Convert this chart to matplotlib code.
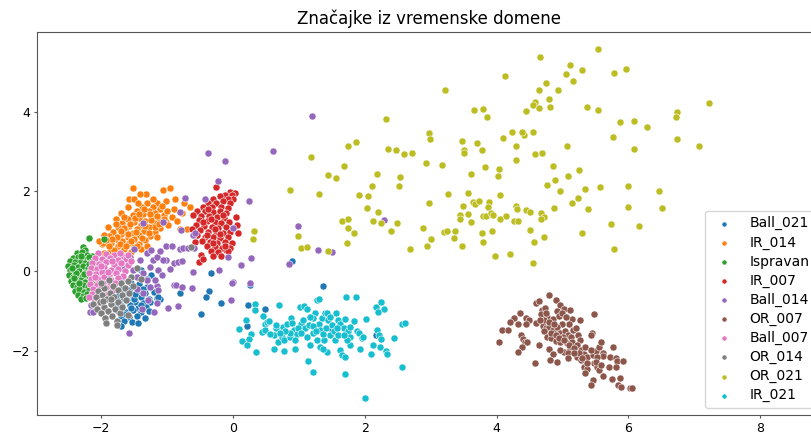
import matplotlib
matplotlib.use("Agg")
import matplotlib.pyplot as plt

labels = ["Ball_021", "IR_014", "Ispravan", "IR_007", "Ball_014",
          "OR_007", "Ball_007", "OR_014", "OR_021", "IR_021"]
colors = ["#1f77b4", "#ff7f0e", "#2ca02c", "#d62728", "#9467bd",
          "#8c564b", "#e377c2", "#7f7f7f", "#bcbd22", "#17becf"]

ball_021 = [
    (-1.39, 0.03), (-1.24, -0.10), (-1.15, -0.38), (-1.30, -0.20), (-1.45, -0.15),
    (-1.55, -0.30), (-1.42, -0.32), (-1.30, -0.40), (-1.68, -0.40), (-1.20, -0.52),
    (-1.82, -0.50), (-1.70, -0.52), (-1.58, -0.48), (-1.46, -0.50), (-1.34, -0.55),
    (-1.76, -0.62), (-1.64, -0.60), (-1.52, -0.64), (-1.40, -0.66), (-1.28, -0.70), (-1.16, -0.69),
    (-1.86, -0.72), (-1.73, -0.75), (-1.61, -0.72), (-1.49, -0.78), (-1.37, -0.80), (-1.26, -0.77),
    (-1.80, -0.86), (-1.68, -0.88), (-1.56, -0.85), (-1.44, -0.92), (-1.32, -0.90),
    (-1.75, -1.00), (-1.63, -1.02), (-1.51, -0.98), (-1.39, -1.04), (-1.27, -1.00),
    (-1.70, -1.13), (-1.58, -1.15), (-1.46, -1.12), (-1.34, -1.18),
    (-1.65, -1.25), (-1.53, -1.28), (-1.44, -1.31), (-1.70, -1.38),
    (-1.60, -0.55), (-1.50, -0.70), (-1.67, -0.66), (-1.55, -0.93), (-1.62, -1.08),
    (-1.40, -0.85), (-1.74, -0.92), (-1.48, -0.58), (-1.36, -0.45),
    (-0.81, -0.55), (-1.11, -0.70), (-1.14, -0.65), (-0.34, -0.05), (-0.36, -0.49),
    (-0.41, -0.65), (-0.18, -0.80), (-0.48, -1.07), (0.26, -0.34), (0.23, -0.85),
    (0.34, -0.99), (0.48, -0.95), (0.21, -1.38), (0.22, -1.86), (1.48, -1.42),
    (1.37, -0.38), (2.17, -1.60), (0.89, 0.25),
]

ir_014 = [
    (-1.52, 2.09), (-1.06, 2.03), (-0.95, 2.08), (-1.32, 1.93), (-1.41, 1.93), (-1.58, 1.80),
    (-1.50, 1.80), (-0.88, 1.81), (-1.16, 1.72), (-1.02, 1.77), (-0.65, 1.60), (-0.69, 1.06),
    (-1.98, 0.68), (-1.87, 0.49), (-1.97, 0.70), (-1.96, 0.46),
    (-1.30, 1.70), (-1.22, 1.62), (-1.38, 1.60), (-1.10, 1.55), (-1.28, 1.50), (-1.45, 1.52),
    (-1.18, 1.45), (-1.36, 1.42), (-1.52, 1.40), (-1.05, 1.40),
    (-1.25, 1.35), (-1.42, 1.32), (-1.60, 1.30), (-1.12, 1.30), (-1.33, 1.25), (-1.50, 1.22),
    (-1.68, 1.20), (-1.20, 1.20), (-1.02, 1.22),
    (-1.40, 1.15), (-1.58, 1.12), (-1.75, 1.10), (-1.28, 1.10), (-1.10, 1.08), (-1.46, 1.05),
    (-1.64, 1.02), (-1.82, 0.98), (-1.35, 1.00), (-1.18, 0.98),
    (-1.52, 0.95), (-1.70, 0.92), (-1.88, 0.88), (-1.42, 0.90), (-1.26, 0.88), (-1.60, 0.85),
    (-1.78, 0.80), (-1.50, 0.80), (-1.34, 0.78), (-1.68, 0.75),
    (-1.85, 0.70), (-1.58, 0.70), (-1.42, 0.68), (-1.75, 0.62), (-1.50, 0.60), (-1.65, 0.55),
    (-1.80, 0.52), (-1.55, 0.48), (-1.70, 0.42), (-1.40, 0.55),
    (-1.00, 1.50), (-0.92, 1.35), (-0.98, 1.15), (-0.85, 1.25), (-1.60, 1.60), (-1.70, 1.45),
    (-1.78, 1.30), (-1.90, 1.10), (-1.95, 0.90), (-2.03, 0.75),
    (-0.78, 1.45), (-0.80, 1.05), (-1.15, 0.85), (-1.30, 0.62), (-1.22, 1.80), (-0.75, 1.70),
    (-1.35, 1.55), (-1.15, 1.38), (-1.48, 1.32), (-1.24, 1.27), (-1.56, 1.17), (-1.33, 1.13),
    (-1.66, 1.08), (-1.47, 0.99), (-1.28, 0.95), (-1.60, 0.93), (-1.76, 0.86), (-1.38, 0.84),
    (-1.55, 0.76), (-1.72, 0.68), (-1.62, 0.62), (-1.46, 0.63), (-1.88, 0.62), (-1.83, 0.80),
    (-1.07, 1.63), (-1.44, 1.70), (-1.70, 1.00), (-1.19, 1.10), (-1.05, 1.30), (-0.90, 1.55),
    (-1.42, 1.44), (-1.26, 1.42), (-1.12, 1.18), (-1.77, 1.19), (-1.65, 1.36), (-1.92, 0.78),
]

ispravan = [
    (-2.18, 0.84), (-1.96, 0.80), (-2.28, 0.60), (-2.25, 0.53),
    (-2.36, 0.44), (-2.29, 0.47), (-2.21, 0.41), (-2.14, 0.38),
    (-2.43, 0.33), (-2.35, 0.36), (-2.27, 0.31), (-2.19, 0.34), (-2.11, 0.27),
    (-2.47, 0.24), (-2.39, 0.22), (-2.31, 0.26), (-2.24, 0.19), (-2.16, 0.23), (-2.08, 0.17),
    (-2.50, 0.12), (-2.42, 0.15), (-2.35, 0.09), (-2.27, 0.13), (-2.20, 0.07), (-2.12, 0.11), (-2.05, 0.04),
    (-2.48, 0.02), (-2.40, -0.03), (-2.33, 0.01), (-2.25, -0.04), (-2.17, 0.00), (-2.09, -0.06),
    (-2.49, -0.10), (-2.43, -0.14), (-2.36, -0.09), (-2.29, -0.16), (-2.22, -0.11), (-2.14, -0.17), (-2.07, -0.13),
    (-2.46, -0.24), (-2.39, -0.27), (-2.31, -0.22), (-2.24, -0.28), (-2.16, -0.25), (-2.10, -0.31),
    (-2.43, -0.36), (-2.36, -0.40), (-2.28, -0.35), (-2.20, -0.41), (-2.13, -0.38),
    (-2.40, -0.49), (-2.33, -0.46), (-2.26, -0.52), (-2.18, -0.47),
    (-2.35, -0.60), (-2.28, -0.63), (-2.21, -0.58),
    (-2.30, -0.71), (-2.23, -0.68),
    (-2.38, -0.05), (-2.30, 0.38), (-2.26, -0.07), (-2.33, -0.31), (-2.19, 0.17), (-2.44, 0.07), (-2.41, -0.18),
]

ir_007 = [
    (-0.25, 2.12), (-0.05, 1.99), (0.03, 1.95), (-0.12, 1.92), (-0.02, 1.90), (-0.20, 1.88), (0.00, 1.82),
    (-0.08, 1.80), (-0.30, 1.82),
    (-0.15, 1.75), (-0.25, 1.72), (-0.38, 1.70), (-0.05, 1.70), (-0.45, 1.62), (-0.32, 1.60), (-0.18, 1.62), (-0.08, 1.58),
    (-0.55, 1.52), (-0.42, 1.50), (-0.30, 1.48), (-0.20, 1.52), (-0.10, 1.45), (-0.60, 1.40), (-0.48, 1.38),
    (-0.36, 1.38), (-0.24, 1.36), (-0.14, 1.32),
    (-0.52, 1.28), (-0.40, 1.25), (-0.28, 1.24), (-0.18, 1.20), (-0.06, 1.22), (-0.56, 1.15), (-0.44, 1.12),
    (-0.32, 1.10), (-0.22, 1.08), (-0.10, 1.10),
    (-0.50, 1.02), (-0.38, 0.98), (-0.26, 0.98), (-0.15, 0.95), (-0.04, 0.98), (-0.55, 0.90), (-0.43, 0.86),
    (-0.31, 0.85), (-0.20, 0.83), (-0.08, 0.85),
    (-0.47, 0.75), (-0.35, 0.72), (-0.24, 0.70), (-0.12, 0.72), (-0.02, 0.70), (-0.40, 0.62), (-0.28, 0.60),
    (-0.16, 0.58), (-0.05, 0.58),
    (-0.34, 0.50), (-0.22, 0.48), (-0.10, 0.52), (-0.07, 0.49), (-0.48, 0.40), (-0.52, 0.22), (-0.45, 0.30),
    (-0.30, 0.38), (-0.18, 0.38),
    (-0.38, 1.55), (-0.15, 1.40), (-0.46, 1.22), (-0.34, 1.30), (-0.28, 1.05), (-0.40, 0.90), (-0.20, 0.92),
    (-0.12, 0.62), (-0.30, 0.70), (0.05, 1.35), (0.06, 1.15), (0.08, 0.95), (-0.62, 1.05), (-0.58, 0.72),
]

ball_014 = [
    (-0.12, 2.76), (-0.38, 2.96), (-0.23, 2.27), (-0.42, 1.81), (0.24, 1.75), (-0.73, 1.83), (-0.80, 1.48),
    (0.00, 1.07), (-0.60, 0.90), (-0.79, 1.03),
    (-0.57, 0.96), (-1.02, 0.63), (-0.93, 0.63), (-0.81, 0.56), (-0.76, 0.58), (-0.68, 0.57), (-0.59, 0.57),
    (0.27, 0.33), (0.12, 0.16), (-1.02, 0.28),
    (-0.90, 0.19), (-0.83, 0.23), (-0.77, 0.25), (-0.60, -0.03), (-0.21, 0.03), (-0.08, 0.36), (-1.15, -0.37),
    (-0.89, -0.35), (-0.86, -0.35), (-0.78, -0.39),
    (-0.62, -0.42), (0.00, -0.28), (-0.03, -0.73), (-1.15, -0.81), (-0.98, -0.94), (-0.84, -0.87), (-1.58, -1.57),
    (-2.17, -1.04), (-2.13, -1.04), (-2.15, -0.86),
    (-1.31, 0.44), (-1.21, 0.28), (-1.16, 0.36), (-1.26, 0.11), (-1.36, -0.06), (-1.13, 0.03), (-1.08, -0.10),
    (-1.31, -0.23), (-1.41, 0.28), (-1.57, 0.36),
    (-1.19, -0.23), (-1.26, -0.39), (-1.13, -0.48), (-1.36, -0.56), (-1.29, -0.73), (-1.52, 0.03), (-1.46, -0.14),
    (-1.24, 0.53), (-1.06, 0.28), (-1.36, 1.20),
    (-1.06, 1.24), (0.26, -0.29), (-0.01, -0.29), (1.20, 3.89), (0.99, 1.12), (1.29, 0.53), (1.51, 0.47),
    (0.85, 0.17), (2.30, 1.29), (0.61, 3.02),
    (-1.70, -0.20), (-1.45, -0.45), (-1.38, -0.95), (-1.20, -1.02), (-1.10, 0.50), (-0.95, 0.05), (-1.50, 0.55),
    (-1.65, 0.05),
]

or_007 = [
    (4.79, -0.61), (4.90, -0.72), (4.60, -0.80), (4.64, -0.76), (4.96, -0.86), (5.02, -0.95), (5.12, -0.98),
    (4.69, -0.98), (4.73, -0.92), (4.35, -1.05), (5.48, -1.09), (4.27, -1.18), (4.20, -1.27), (4.45, -1.17),
    (4.50, -1.24), (4.60, -1.31), (4.67, -1.09), (4.77, -1.15), (4.85, -1.20), (4.92, -1.00), (4.95, -1.12),
    (4.99, -1.06), (5.27, -1.23), (5.15, -1.21), (5.10, -1.32), (5.00, -1.34), (4.33, -1.33), (4.44, -1.34),
    (4.09, -1.47), (4.17, -1.49), (4.70, -1.38), (4.75, -1.44), (4.80, -1.40), (4.72, -1.52), (4.85, -1.48),
    (4.92, -1.40), (4.97, -1.57), (5.04, -1.52), (5.09, -1.61), (5.16, -1.47), (5.20, -1.42), (5.13, -1.65),
    (5.24, -1.61), (5.26, -1.73), (5.45, -1.57), (5.43, -1.62), (4.04, -1.78), (4.37, -1.61), (4.40, -1.70),
    (4.43, -1.79), (4.47, -1.78), (4.39, -1.92), (4.33, -2.04), (4.65, -1.85), (4.77, -1.65), (4.82, -1.69),
    (4.90, -1.75), (5.01, -1.65), (4.97, -1.78), (5.07, -1.82), (5.15, -1.78), (5.22, -1.86), (5.28, -1.99),
    (5.33, -2.09), (5.38, -2.17), (5.46, -2.11), (5.51, -2.00), (5.56, -1.92), (5.58, -1.78), (5.62, -2.05),
    (5.61, -2.14), (5.53, -2.17), (4.80, -1.97), (4.86, -2.09), (4.81, -2.24), (5.02, -2.04), (4.96, -1.99),
    (5.11, -1.97), (5.08, -2.07), (5.22, -2.17), (5.28, -2.24), (5.77, -1.92), (5.73, -2.17), (5.81, -2.19),
    (5.83, -2.25), (5.92, -2.26), (5.70, -2.40), (5.81, -2.40), (5.48, -2.30), (5.33, -2.40), (5.38, -2.45),
    (5.35, -2.57), (5.52, -2.42), (5.56, -2.49), (5.62, -2.65), (5.46, -2.74), (5.44, -2.86), (5.75, -2.71),
    (5.88, -2.70), (5.84, -2.87), (5.89, -2.91), (6.02, -2.95), (6.06, -2.93), (4.58, -2.32), (4.92, -2.29),
    (4.72, -1.23), (4.80, -1.27), (4.87, -1.32), (4.82, -1.57), (4.90, -1.61), (4.95, -1.69), (5.03, -1.73),
    (5.10, -1.86), (5.18, -1.94), (5.25, -2.07), (5.30, -2.19), (5.38, -2.30), (5.18, -2.07), (5.08, -2.19),
    (4.66, -1.23), (4.75, -1.06), (5.05, -1.15), (5.35, -1.90), (5.43, -1.99), (5.51, -2.28), (5.58, -2.36),
]

ball_007 = [
    (-2.05, 0.45), (-1.93, 0.42), (-1.80, 0.40), (-1.68, 0.38),
    (-2.10, 0.32), (-1.99, 0.30), (-1.87, 0.33), (-1.75, 0.28), (-1.63, 0.30),
    (-2.14, 0.20), (-2.03, 0.18), (-1.92, 0.22), (-1.81, 0.16), (-1.70, 0.19), (-1.59, 0.14),
    (-2.16, 0.07), (-2.06, 0.05), (-1.96, 0.09), (-1.85, 0.03), (-1.74, 0.06), (-1.64, 0.01),
    (-2.18, -0.06), (-2.08, -0.08), (-1.98, -0.03), (-1.88, -0.10), (-1.78, -0.05), (-1.67, -0.12),
    (-2.15, -0.19), (-2.05, -0.21), (-1.95, -0.16), (-1.85, -0.23), (-1.75, -0.18),
    (-2.17, -0.32), (-2.07, -0.34), (-1.97, -0.29), (-1.87, -0.36), (-1.79, -0.31),
    (-2.12, -0.45), (-2.02, -0.47), (-1.93, -0.42), (-1.84, -0.49),
    (-2.14, -0.58), (-2.05, -0.60), (-1.96, -0.55),
    (-2.11, -0.71), (-2.02, -0.73), (-2.09, -0.86), (-2.18, -0.65),
    (-2.00, 0.12), (-1.90, -0.02), (-2.10, -0.14), (-1.83, 0.25), (-1.72, 0.45), (-2.01, -0.40),
    (-1.92, -0.60), (-1.60, 0.40), (-1.55, 0.25),
]

or_014 = [
    (-1.46, 0.07), (-1.54, -0.14), (-1.60, -0.25), (-1.70, -0.30), (-1.82, -0.38), (-1.95, -0.42), (-2.05, -0.50),
    (-1.64, -0.42), (-1.75, -0.48), (-1.86, -0.55), (-1.98, -0.60), (-2.08, -0.66),
    (-1.69, -0.60), (-1.80, -0.66), (-1.91, -0.71), (-2.02, -0.78), (-2.12, -0.82),
    (-1.74, -0.78), (-1.85, -0.84), (-1.96, -0.90), (-2.06, -0.95),
    (-1.79, -0.95), (-1.90, -1.01), (-2.00, -1.06), (-1.72, -1.05),
    (-1.83, -1.12), (-1.94, -1.17), (-1.76, -1.25), (-1.92, -1.31), (-1.76, -1.36),
    (-1.58, -0.55), (-1.62, -0.72), (-1.88, -0.22), (-2.00, -0.30), (-1.68, -0.90), (-1.52, -0.38),
    (-1.40, -0.20), (-1.85, -0.70), (-1.97, -0.75), (-1.60, -1.10), (-0.64, 0.60),
]

or_021 = [
    (4.13, 4.91), (3.22, 4.56), (3.66, 4.05), (3.79, 4.08), (3.86, 3.88), (4.44, 4.03), (2.33, 3.81),
    (2.97, 3.46), (2.99, 3.31), (3.48, 3.27), (3.70, 3.22), (3.51, 3.04), (3.51, 2.97), (3.78, 3.04),
    (4.10, 3.34), (4.23, 3.48), (4.40, 3.47), (4.42, 3.42), (4.30, 3.15), (4.30, 2.80), (1.75, 3.15),
    (1.86, 3.23), (2.35, 3.06), (2.48, 3.04), (2.60, 2.95), (2.71, 2.96), (1.19, 2.87), (2.93, 2.71),
    (3.18, 2.66), (1.69, 2.64), (1.44, 2.40), (1.56, 2.34), (2.18, 2.44), (2.54, 2.36), (2.52, 2.14),
    (2.11, 2.14), (3.82, 2.61), (4.04, 2.56), (3.62, 2.44), (4.02, 2.39), (0.86, 2.04), (1.30, 1.94),
    (1.91, 1.92), (2.05, 1.89), (3.27, 1.93), (3.56, 1.96), (2.98, 1.70), (3.49, 1.64), (3.65, 1.74),
    (3.67, 1.68), (3.74, 1.75), (3.88, 1.74), (3.87, 1.61), (4.05, 1.90), (4.30, 1.63), (4.31, 1.57),
    (4.44, 1.53), (2.03, 1.58), (2.20, 1.47), (1.66, 1.26), (1.75, 1.31), (1.74, 1.08), (1.84, 0.95),
    (1.73, 0.71), (2.12, 1.25), (2.25, 1.21), (2.49, 1.21), (2.40, 1.01), (3.45, 1.41), (3.44, 1.30),
    (3.56, 1.42), (3.62, 1.22), (3.80, 1.38), (3.84, 1.38), (3.91, 1.46), (3.95, 1.40), (4.05, 1.31),
    (4.14, 1.38), (4.26, 1.26), (4.33, 1.26), (4.51, 1.49), (2.88, 1.07), (3.01, 0.80), (2.95, 0.62),
    (3.21, 0.97), (3.25, 1.01), (3.37, 1.01), (3.36, 0.82), (3.47, 0.63), (3.78, 0.96), (3.93, 1.01),
    (3.79, 0.73), (4.51, 1.03), (3.97, 0.37), (4.21, 0.43), (2.68, 0.55), (0.98, 0.88), (1.03, 0.57),
    (1.13, 0.61), (1.44, 0.51), (0.32, 1.01), (0.30, 0.80),
    (5.54, 5.58), (4.66, 5.37), (5.11, 5.18), (5.05, 4.94), (5.29, 5.06), (5.16, 4.77), (5.79, 4.98),
    (5.97, 5.07), (4.75, 4.73), (4.64, 4.55), (4.93, 4.54), (4.79, 4.32), (4.58, 4.25), (4.56, 4.16),
    (4.65, 4.10), (4.81, 4.11), (5.37, 4.11), (5.54, 4.04), (7.23, 4.22), (6.74, 3.99), (6.72, 3.88),
    (5.88, 3.75), (6.08, 3.77), (6.29, 3.61), (5.77, 3.37), (6.74, 3.32), (7.08, 3.15), (6.09, 3.07),
    (4.38, 3.49), (4.56, 3.49), (5.07, 3.14), (4.59, 2.94), (4.69, 2.96), (4.86, 2.65), (5.25, 2.55),
    (5.08, 2.39), (4.89, 2.28), (4.77, 2.15), (4.96, 2.02), (5.35, 2.06), (5.57, 2.10), (6.00, 2.14),
    (6.46, 2.01), (6.51, 1.59), (5.99, 1.62), (5.14, 1.72), (5.24, 1.83), (5.39, 1.57), (4.88, 1.58),
    (4.68, 1.46), (4.72, 1.35), (4.67, 1.31), (5.74, 1.19), (6.16, 1.12), (4.57, 0.73), (4.72, 0.85),
    (5.29, 0.95), (5.79, 0.56), (4.55, 0.19),
]

ir_021 = [
    (0.70, -0.85), (0.33, -0.84), (0.34, -0.99), (0.20, -1.23), (0.09, -1.45), (0.14, -1.77), (0.27, -1.58),
    (0.25, -1.72), (0.35, -2.04), (0.45, -1.12), (0.48, -1.32), (0.52, -1.27), (0.55, -1.25), (0.44, -1.53),
    (0.48, -1.48), (0.65, -1.43), (0.63, -1.62), (0.62, -1.95), (0.69, -1.78), (0.74, -1.65), (0.77, -1.73),
    (0.78, -2.01), (0.76, -1.40), (0.82, -1.32), (0.88, -1.17), (0.89, -1.30), (0.92, -1.48), (0.86, -1.65),
    (0.94, -1.97), (0.97, -1.58), (1.02, -0.90), (1.08, -0.88), (1.12, -0.96), (1.03, -1.32), (1.07, -1.23),
    (1.10, -1.44), (1.16, -1.36), (1.13, -1.65), (1.21, -1.57), (1.17, -1.86), (1.27, -0.73), (1.31, -0.70),
    (1.25, -1.05), (1.30, -1.32), (1.32, -1.48), (1.28, -1.73), (1.35, -1.19), (1.40, -1.06), (1.42, -1.05),
    (1.45, -1.23), (1.41, -1.44), (1.48, -1.61), (1.38, -1.73), (1.32, -1.92), (1.42, -2.03), (1.36, -1.97),
    (1.50, -1.36), (1.57, -1.06), (1.59, -1.23), (1.63, -1.32), (1.68, -1.44), (1.55, -1.73), (1.62, -1.98),
    (1.65, -2.11), (1.70, -2.17), (1.72, -0.65), (1.86, -0.65), (1.70, -1.21), (1.75, -1.52), (1.78, -1.65),
    (1.84, -1.26), (1.88, -1.52), (1.92, -1.57), (1.78, -1.86), (1.93, -1.97), (1.96, -1.69), (1.98, -1.65),
    (2.02, -1.21), (2.13, -1.86), (2.19, -1.48), (2.21, -1.61), (2.24, -1.70), (2.17, -0.90), (2.24, -0.78),
    (2.29, -0.96), (2.20, -1.03), (2.09, -2.09), (2.23, -1.90), (2.32, -2.02), (2.34, -2.09), (2.44, -1.69),
    (2.57, -1.32), (2.61, -1.30), (2.56, -2.40), (1.14, -2.26), (1.21, -2.55), (1.70, -2.59), (2.00, -3.18),
    (0.87, -1.57), (0.79, -1.52), (0.71, -1.55), (0.99, -1.42), (1.04, -1.57), (1.22, -1.38), (1.26, -1.50),
    (1.36, -1.58), (1.53, -1.52), (1.60, -1.61), (1.22, -1.19), (1.17, -1.15), (1.48, -1.15), (1.58, -1.44),
    (0.94, -1.73), (1.73, -1.73), (1.78, -1.40), (0.66, -1.36), (0.56, -1.58), (1.68, -1.61), (0.22, -1.87),
]

series = [ball_021, ir_014, ispravan, ir_007, ball_014,
          or_007, ball_007, or_014, or_021, ir_021]

W, H = 812, 432
fig = plt.figure(figsize=(W / 100, H / 100), dpi=100)
ax = fig.add_axes([37 / W, 17 / H, 785 / W, 383 / H])

for pts, lab, col in zip(series, labels, colors):
    xs = [p[0] for p in pts]
    ys = [p[1] for p in pts]
    ax.scatter(xs, ys, s=26, color=col, edgecolors="white", linewidths=0.4, label=lab)

ax.set_xlim(-2.974, 8.94)
ax.set_ylim(-3.618, 6.005)
ax.set_xticks([-2, 0, 2, 4, 6, 8])
ax.set_yticks([-2, 0, 2, 4])
ax.tick_params(labelsize=9, length=2.5, pad=2.5, color="#555555")
for sp in ax.spines.values():
    sp.set_color("#555555")
ax.set_title("Značajke iz vremenske domene", fontsize=12)
ax.legend(loc="lower right", fontsize=10, markerscale=0.72, labelspacing=0.36, framealpha=0.8)

fig.savefig("out.png", dpi=100)
